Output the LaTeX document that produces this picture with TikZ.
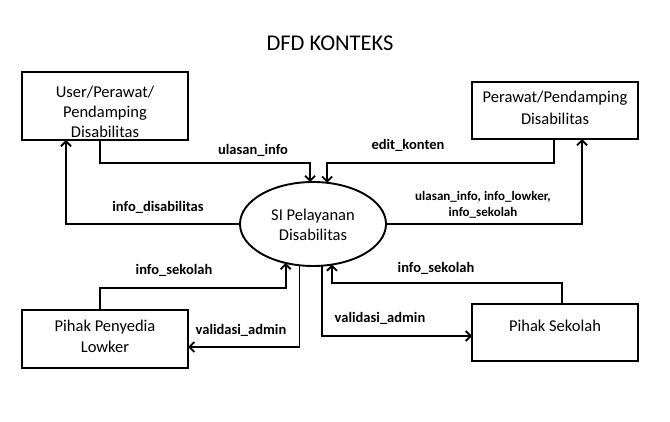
\documentclass[tikz,border=0pt]{standalone}
\usepackage{fontspec}
\setmainfont{Carlito}
\usetikzlibrary{arrows.meta,shapes.geometric}
\begin{document}
\begin{tikzpicture}[x=1pt,y=-1pt,
  boxnode/.style={draw,line width=2.4pt,inner sep=0pt,outer sep=0pt},
  btxt/.style={align=center,font=\fontsize{16.5}{20}\selectfont,inner sep=0pt},
  lbl/.style={align=center,font=\fontsize{14.5}{16}\selectfont\bfseries,inner sep=0pt},
  flow/.style={line width=1.8pt,-{Straight Barb[length=5pt,width=10pt,line width=1.8pt]}}]
\useasboundingbox (0,0) rectangle (670,422);
\node[font=\fontsize{22.5}{26}\selectfont,inner sep=0pt] (title) at (330,43) {DFD KONTEKS};
% boxes
\node[boxnode,minimum width=166pt,minimum height=68pt] (u) at (105,106) {};
\node[btxt] (ut) at (105,112) {User/Perawat/\\Pendamping\\Disabilitas};
\node[boxnode,minimum width=166pt,minimum height=57pt] (p) at (555,110.5) {};
\node[btxt,font=\fontsize{16.5}{22}\selectfont] (pt) at (555,108) {Perawat/Pendamping\\Disabilitas};
\node[boxnode,minimum width=166pt,minimum height=58pt] (l) at (105,339) {};
\node[btxt,font=\fontsize{16.5}{21}\selectfont] (lt) at (105,336.5) {Pihak Penyedia\\Lowker};
\node[boxnode,minimum width=166pt,minimum height=57pt] (s) at (555,332.5) {};
\node[btxt] (st) at (555,326) {Pihak Sekolah};
% process
\node[draw,ellipse,line width=1.9pt,minimum width=146pt,minimum height=84pt,inner sep=0pt,outer sep=0pt] (e) at (313,224) {};
\node[btxt] (et) at (313,225) {SI Pelayanan\\Disabilitas};
% flows
\draw[flow] ([xshift=-5pt]u.south) -- ++(0,23) -| (e.94);
\draw[flow] ([xshift=-1pt]p.south) -- ++(0,24) -| (e.71);
\draw[flow] (e.west) -| ([xshift=-39pt]u.south);
\draw[flow] (e.east) -| ([xshift=27pt]p.south);
\draw[flow] ([xshift=-5pt]l.north) -- ++(0,-22) -| (e.235);
\draw[flow] (e.252.5) |- ([yshift=-8pt]l.east);
\draw[flow] (e.282) |- ([yshift=-3.5pt]s.west);
\draw[flow] ([xshift=7pt]s.north) -- ++(0,-21) -| (e.295);
% labels
\node[lbl] (l1) at (253,150) {ulasan\_info};
\node[lbl] (l2) at (408,145) {edit\_konten};
\node[lbl] (l3) at (158,207) {info\_disabilitas};
\node[lbl,font=\fontsize{13}{16}\selectfont\bfseries] (l4) at (483,205) {ulasan\_info, info\_lowker,\\info\_sekolah};
\node[lbl] (l5) at (174,270) {info\_sekolah};
\node[lbl] (l6) at (241,330) {validasi\_admin};
\node[lbl] (l7) at (436,268) {info\_sekolah};
\node[lbl] (l8) at (380,318) {validasi\_admin};
\end{tikzpicture}
\end{document}
